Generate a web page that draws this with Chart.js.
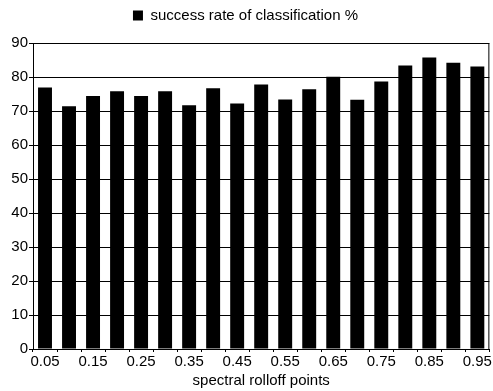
<!DOCTYPE html>
<html>
<head>
<meta charset="utf-8">
<script src="https://cdn.jsdelivr.net/npm/chart.js@4/dist/chart.umd.min.js"></script>
<style>
  html, body { margin: 0; padding: 0; background: #fff; }
  #wrap { width: 493px; height: 391px; }
</style>
</head>
<body>
<div id="wrap"><canvas id="barChart"></canvas></div>
<script>
var rolloffPoints = ['0.05', '0.10', '0.15', '0.20', '0.25', '0.30', '0.35', '0.40', '0.45', '0.50',
                     '0.55', '0.60', '0.65', '0.70', '0.75', '0.80', '0.85', '0.90', '0.95'];
var successRate = [76.9, 71.4, 74.4, 75.8, 74.4, 75.8, 71.7, 76.7, 72.2, 77.8,
                   73.4, 76.4, 80.1, 73.3, 78.7, 83.4, 85.7, 84.2, 83.1];
var yTicks = [0, 10, 20, 30, 40, 50, 60, 70, 80, 90];

Chart.defaults.font.family = '"Liberation Sans", Arial, sans-serif';
Chart.defaults.color = '#000';

// box round the plot area (top and right side too)
var frame = {
    id: 'frame',
    afterDraw: function (chart) {
        var a = chart.chartArea;
        var c = chart.ctx;
        c.save();
        c.strokeStyle = '#000';
        c.lineWidth = 1;
        c.strokeRect(a.left + 0.5, a.top + 0.5, a.right - a.left - 1, a.bottom - a.top);
        c.restore();
    }
};

// extra room under the legend, legend itself stays at the top
var legendGap = {
    id: 'legendGap',
    beforeUpdate: function (chart) {
        var lg = chart.legend;
        if (!lg || lg._gapDone) return;
        var fit = lg.fit;
        lg.fit = function () {
            fit.call(this);
            this.height += 10;
        };
        lg._gapDone = true;
    }
};

var ctx = document.getElementById('barChart').getContext('2d');
var chart = new Chart(ctx, {
    type: 'bar',

    // The data for our dataset
    data: {
        labels: rolloffPoints,
        datasets: [{
            label: 'success rate of classification %',
            backgroundColor: '#000',
            data: successRate,
            categoryPercentage: 1,
            barPercentage: 0.58
        }]
    },

    plugins: [frame, legendGap],

    // Configuration options go here
    options: {
        responsive: true,
        maintainAspectRatio: false,
        animation: false,
        layout: {
            padding: { top: 0, right: 2, bottom: 1, left: 0 }
        },
        plugins: {
            legend: {
                labels: {
                    boxWidth: 10,
                    boxHeight: 10,
                    padding: 8,
                    font: { size: 15 }
                }
            },
            tooltip: { enabled: false }
        },
        scales: {
            x: {
                grid: { display: true, drawOnChartArea: false, tickLength: 3, color: '#000' },
                border: { color: '#000' },
                ticks: {
                    autoSkip: false,
                    maxRotation: 0,
                    padding: 1,
                    font: { size: 15 },
                    callback: function (v, i) {
                        return i % 2 === 0 ? rolloffPoints[i] : '';
                    }
                },
                title: {
                    display: true,
                    text: 'spectral rolloff points',
                    font: { size: 15 },
                    padding: { top: 0, bottom: 0 }
                }
            },
            y: {
                min: 0,
                max: 90,
                afterFit: function (scale) { scale.width = 33; },
                afterBuildTicks: function (scale) {
                    scale.ticks = yTicks.map(function (v) { return { value: v }; });
                },
                grid: { color: '#000', tickLength: 4 },
                border: { color: '#000' },
                ticks: {
                    padding: 1,
                    font: { size: 15 }
                }
            }
        }
    }
});
</script>
</body>
</html>
